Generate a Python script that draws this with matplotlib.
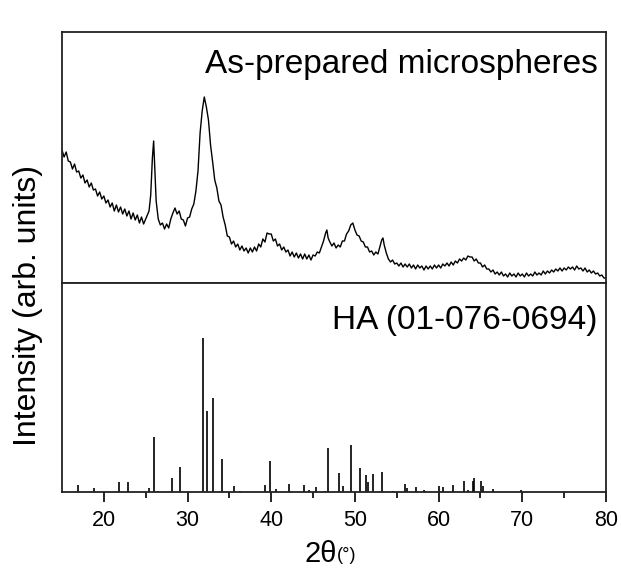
import matplotlib
matplotlib.use("Agg")
import matplotlib.pyplot as plt
import numpy as np

plt.rcParams['font.family'] = ['Liberation Sans', 'DejaVu Sans']

two_theta = [
    15.0, 15.25, 15.5, 15.75, 16.0, 16.25, 16.5, 16.75, 17.0, 17.25, 17.5, 17.75,
    18.0, 18.25, 18.5, 18.75, 19.0, 19.25, 19.5, 19.75, 20.0, 20.25, 20.5, 20.75,
    21.0, 21.25, 21.5, 21.75, 22.0, 22.25, 22.5, 22.75, 23.0, 23.25, 23.5, 23.75,
    24.0, 24.25, 24.5, 24.75, 25.0, 25.2, 25.4, 25.6, 25.8, 25.95, 26.1, 26.25,
    26.5, 26.75, 27.0, 27.25, 27.5, 27.75, 28.0, 28.25, 28.5, 28.75, 29.0, 29.25,
    29.5, 29.75, 30.0, 30.25, 30.5, 30.75, 31.0, 31.25, 31.5, 31.75, 32.0, 32.25,
    32.5, 32.75, 33.0, 33.25, 33.5, 33.75, 34.0, 34.25, 34.5, 34.75, 35.0, 35.25,
    35.5, 35.75, 36.0, 36.25, 36.5, 36.75, 37.0, 37.25, 37.5, 37.75, 38.0, 38.25,
    38.5, 38.75, 39.0, 39.25, 39.5, 39.75, 40.0, 40.25, 40.5, 40.75, 41.0, 41.25,
    41.5, 41.75, 42.0, 42.25, 42.5, 42.75, 43.0, 43.25, 43.5, 43.75, 44.0, 44.25,
    44.5, 44.75, 45.0, 45.25, 45.5, 45.75, 46.0, 46.25, 46.5, 46.65, 46.8, 47.0,
    47.25, 47.5, 47.75, 48.0, 48.25, 48.5, 48.75, 49.0, 49.25, 49.5, 49.75, 50.0,
    50.25, 50.5, 50.75, 51.0, 51.25, 51.5, 51.75, 52.0, 52.25, 52.5, 52.75, 53.0,
    53.2, 53.35, 53.5, 53.75, 54.0, 54.25, 54.5, 54.75, 55.0, 55.25, 55.5, 55.75,
    56.0, 56.25, 56.5, 56.75, 57.0, 57.25, 57.5, 57.75, 58.0, 58.25, 58.5, 58.75,
    59.0, 59.25, 59.5, 59.75, 60.0, 60.25, 60.5, 60.75, 61.0, 61.25, 61.5, 61.75,
    62.0, 62.25, 62.5, 62.75, 63.0, 63.25, 63.5, 63.75, 64.0, 64.25, 64.5, 64.75,
    65.0, 65.25, 65.5, 65.75, 66.0, 66.25, 66.5, 66.75, 67.0, 67.25, 67.5, 67.75,
    68.0, 68.25, 68.5, 68.75, 69.0, 69.25, 69.5, 69.75, 70.0, 70.25, 70.5, 70.75,
    71.0, 71.25, 71.5, 71.75, 72.0, 72.25, 72.5, 72.75, 73.0, 73.25, 73.5, 73.75,
    74.0, 74.25, 74.5, 74.75, 75.0, 75.25, 75.5, 75.75, 76.0, 76.25, 76.5, 76.75,
    77.0, 77.25, 77.5, 77.75, 78.0, 78.25, 78.5, 78.75, 79.0, 79.25, 79.5, 79.75,
    80.0,
]
intensity = [
    133, 126, 131, 122, 121, 114, 119, 111, 112, 105, 108, 100,
    103, 96, 100, 93, 94, 87, 91, 84, 87, 80, 83, 76,
    80, 72, 78, 71, 76, 69, 74, 67, 72, 64, 70, 63,
    68, 60, 66, 59, 64, 68, 72, 88, 125, 142, 112, 82,
    64, 58, 60, 54, 59, 55, 64, 70, 75, 69, 72, 64,
    63, 57, 65, 66, 74, 79, 92, 112, 150, 172, 186, 176,
    163, 138, 121, 103, 95, 82, 78, 66, 58, 47, 46, 39,
    42, 36, 39, 33, 37, 32, 35, 30, 35, 31, 36, 32,
    39, 36, 44, 41, 50, 49, 49, 42, 44, 37, 39, 33,
    36, 31, 33, 27, 31, 26, 30, 25, 29, 24, 29, 24,
    28, 23, 28, 27, 31, 30, 36, 42, 50, 53, 45, 41,
    37, 40, 35, 38, 36, 42, 42, 49, 52, 58, 60, 53,
    48, 47, 42, 41, 36, 36, 31, 32, 28, 31, 29, 37,
    43, 45, 38, 30, 24, 21, 23, 19, 20, 17, 20, 16,
    19, 16, 19, 15, 18, 14, 18, 15, 17, 13, 17, 14,
    17, 14, 18, 15, 18, 15, 19, 17, 20, 17, 21, 18,
    22, 20, 24, 22, 25, 23, 27, 26, 26, 22, 24, 20,
    20, 16, 18, 14, 14, 11, 13, 9, 11, 8, 11, 7,
    9, 6, 10, 7, 9, 6, 10, 7, 9, 6, 10, 7,
    9, 7, 11, 8, 10, 8, 12, 9, 12, 10, 13, 11,
    14, 12, 15, 12, 15, 13, 16, 14, 16, 13, 17, 14,
    15, 12, 15, 11, 13, 10, 12, 9, 10, 7, 8, 5,
    5,
]

# ---- HA reference card 01-076-0694 (stick pattern) ----
ref_2theta = [16.93, 18.88, 21.86, 22.94, 25.44, 25.96, 26.5, 28.2, 29.06, 31.85,
              32.28, 33.0, 34.15, 35.55, 36.3, 39.3, 39.88, 40.56, 42.1, 42.3,
              43.94, 44.5, 45.37, 46.4, 46.76, 48.15, 48.63, 49.58, 50.62, 51.37,
              51.57, 52.2, 53.28, 54.6, 55.95, 56.2, 57.27, 58.2, 58.4, 60.08,
              60.5, 61.75, 63.07, 63.5, 64.07, 64.26, 65.1, 65.35, 66.46, 69.83]
ref_int = [7, 4, 10, 10, 4, 55, 1, 14, 25, 153,
           81, 94, 33, 6, 1, 7, 31, 3, 8, 1,
           7, 2, 5, 1, 44, 19, 6, 47, 24, 17,
           10, 18, 20, 1, 8, 4, 5, 2, 1, 6,
           5, 7, 11, 2, 11, 14, 11, 6, 3, 2]

x_ticks = [20, 30, 40, 50, 60, 70, 80]
top_label = "As-prepared microspheres"
bottom_label = "HA (01-076-0694)"
y_label = "Intensity (arb. units)"

W, H = 621, 583
fig = plt.figure(figsize=(W / 100, H / 100), dpi=100)
fig.patch.set_facecolor('white')

L, R = 62 / W, 606 / W
ax_top = fig.add_axes([L, 1 - 283 / H, R - L, (283 - 32) / H])
ax_bot = fig.add_axes([L, 1 - 492 / H, R - L, (492 - 283) / H], sharex=ax_top)

ax_top.plot(two_theta, intensity, color='black', lw=1.0)
ax_top.set_ylim(0, 251)
ax_top.set_xlim(15, 80)
ax_top.set_yticks([])
ax_top.tick_params(axis='x', which='both', bottom=False, labelbottom=False)
ax_top.text(0.985, 0.87, top_label, transform=ax_top.transAxes, ha='right',
            va='center', fontsize=24)

ax_bot.vlines(ref_2theta, 0, ref_int, color='black', lw=1.2)
ax_bot.set_ylim(0, 208)
ax_bot.set_yticks([])
ax_bot.set_xticks(x_ticks)
ax_bot.set_xticks([25, 35, 45, 55, 65, 75], minor=True)
ax_bot.tick_params(axis='x', which='major', direction='out', length=7, width=1.2,
                   labelsize=15.5, pad=6)
ax_bot.tick_params(axis='x', which='minor', direction='out', length=4, width=1.2)
ax_bot.text(0.985, 0.82, bottom_label, transform=ax_bot.transAxes, ha='right',
            va='center', fontsize=24)

for ax in (ax_top, ax_bot):
    for s in ax.spines.values():
        s.set_linewidth(1.3)
        s.set_color('#222222')

fig.text(28 / W, 1 - 305 / H, y_label, rotation=90, ha='center', va='center',
         fontsize=23)
fig.text(337 / W, 1 - 554 / H, "2θ", ha='right', va='center', fontsize=21)
fig.text(337 / W, 1 - 556 / H, "(°)", ha='left', va='center', fontsize=13)

fig.savefig("out.png", dpi=100, facecolor='white')
